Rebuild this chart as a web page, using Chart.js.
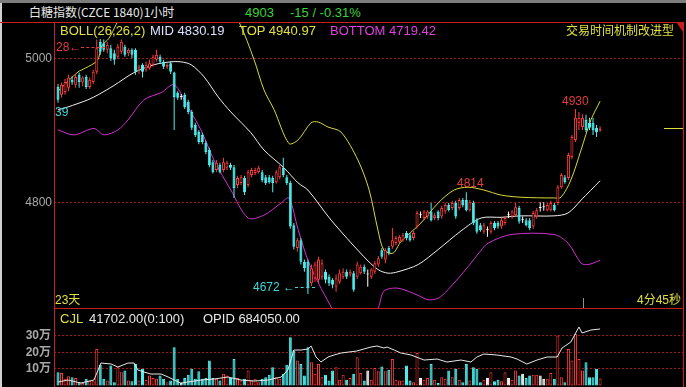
<!DOCTYPE html>
<html>
<head>
<meta charset="utf-8">
<script src="https://cdn.jsdelivr.net/npm/chart.js"></script>
<style>
  body { margin:0; background:#000; width:686px; height:387px; overflow:hidden; position:relative;
         font-family:"Liberation Sans","Noto Sans CJK SC",sans-serif; }
  canvas { position:absolute; left:0; }
  .t { position:absolute; white-space:nowrap; line-height:1; font-size:13px; transform:translateY(-50%); }
  .ln { position:absolute; background:#c81e1e; }
</style>
</head>
<body>
<canvas id="main" width="686" height="286" style="top:22px"></canvas>
<canvas id="vol" width="686" height="78" style="top:309px"></canvas>

<!-- frame -->
<div style="position:absolute;left:0;top:0;width:686px;height:3px;background:#7c7c7c"></div>
<div style="position:absolute;left:0;top:3px;width:2px;height:384px;background:#d0d0d0"></div>
<div class="ln" style="left:0;top:22px;width:684px;height:1px"></div>
<div class="ln" style="left:54px;top:22px;width:1px;height:365px"></div>
<div class="ln" style="left:683px;top:22px;width:1px;height:365px"></div>
<div class="ln" style="left:54px;top:308px;width:630px;height:1px"></div>
<div style="position:absolute;left:677px;top:23px;width:0;height:0;border-top:9px solid #c81e1e;border-left:6px solid transparent"></div>
<div style="position:absolute;left:583px;top:298px;width:1px;height:10px;background:#909090"></div>

<!-- header -->
<div class="t" style="left:29px;top:12px;color:#e8e8e8;font-size:12px;font-family:'Noto Sans CJK SC'">白糖指数(CZCE 1840)1小时</div>
<div class="t" style="left:245px;top:12px;color:#3cd23c">4903</div>
<div class="t" style="left:290px;top:12px;color:#3cd23c">-15 / -0.31%</div>
<div class="t" style="left:60px;top:30px;color:#e0e040">BOLL(26,26,2)</div>
<div class="t" style="left:150px;top:30px;color:#d8e0ff">MID 4830.19</div>
<div class="t" style="left:239px;top:30px;color:#e0e040">TOP 4940.97</div>
<div class="t" style="left:330px;top:30px;color:#e040e0">BOTTOM 4719.42</div>
<div class="t" style="left:566px;top:30px;color:#e0e040;font-size:12px;font-family:'Noto Sans CJK SC'">交易时间机制改进型</div>

<!-- price marks -->
<div class="t" style="left:56px;top:47px;color:#e03c3c;font-size:12px">28←<span style="display:inline-block;width:24px;border-top:1px dashed #e03c3c;vertical-align:middle"></span></div>
<div class="t" style="left:55px;top:112px;color:#40d8d8;font-size:12px">39</div>
<div class="t" style="left:562px;top:101px;color:#e03c3c;font-size:12px">4930</div>
<div class="t" style="left:457px;top:183px;color:#e03c3c;font-size:12px">4814</div>
<div class="t" style="left:253px;top:287px;color:#40d8d8;font-size:12px">4672 ←<span style="display:inline-block;width:20px;border-top:1px dashed #40d8d8;vertical-align:middle"></span></div>
<div class="t" style="left:55px;top:300px;color:#e0e040;font-size:12px">23天</div>
<div class="t" style="left:637px;top:300px;color:#e0e040;font-size:12px">4分45秒</div>

<!-- volume header -->
<div class="t" style="left:60px;top:318px;color:#e0e040">CJL</div>
<div class="t" style="left:89px;top:318px;color:#e8e8e8">41702.00(0:100)</div>
<div class="t" style="left:203px;top:318px;color:#e8e8e8">OPID 684050.00</div>

<script>
// hourly candles, left to right
var open = [4961,4950,4954,4960,4971,4964,4978,4967,4975,4961,
            4968,4982,5024,5022,5013,5015,5008,5003,5010,5017,
            5008,5013,5013,4985,4992,4985,4987,4992,4999,5003,
            4996,4989,4994,4981,4953,4947,4950,4940,4926,4908,
            4898,4894,4883,4873,4856,4845,4852,4845,4848,4852,
            4849,4824,4827,4834,4824,4838,4841,4842,4842,4835,
            4835,4834,4828,4835,4848,4835,4827,4768,4736,4747,
            4717,4717,4687,4694,4692,4696,4703,4696,4692,4682,
            4689,4696,4703,4699,4701,4696,4701,4710,4699,4696,
            4703,4713,4733,4720,4736,4738,4743,4745,4747,4757,
            4754,4750,4766,4782,4778,4780,4787,4778,4787,4780,
            4787,4796,4792,4799,4792,4803,4803,4789,4799,4775,
            4768,4759,4761,4759,4771,4771,4766,4771,4782,4780,
            4782,4792,4775,4775,4775,4766,4780,4792,4793,4789,
            4789,4796,4799,4821,4835,4834,4863,4887,4911,4905,
            4915,4911,4911,4904,4900];
var high = [4965,4967,4972,4978,4976,4979,4981,4976,4978,4974,
            4985,5027,5028,5027,5024,5020,5013,5021,5027,5020,
            5015,5015,5015,4992,4994,4996,4999,5006,5013,5006,
            4999,4994,4997,4982,4955,4951,4953,4943,4929,4911,
            4901,4897,4886,4876,4859,4859,4855,4862,4858,4855,
            4852,4837,4838,4837,4845,4848,4848,4851,4845,4838,
            4838,4837,4845,4852,4862,4838,4830,4771,4750,4750,
            4720,4720,4713,4717,4724,4720,4706,4699,4694,4699,
            4706,4708,4706,4706,4704,4717,4713,4713,4706,4708,
            4718,4725,4736,4736,4739,4764,4753,4754,4757,4760,
            4757,4760,4788,4787,4789,4789,4799,4785,4789,4795,
            4799,4799,4802,4802,4806,4806,4814,4803,4802,4778,
            4771,4771,4766,4774,4774,4774,4778,4781,4787,4789,
            4799,4795,4780,4778,4778,4788,4792,4800,4800,4799,
            4802,4799,4824,4841,4838,4869,4894,4930,4926,4923,
            4922,4918,4918,4908,4906];
var low = [4939,4946,4950,4955,4964,4960,4960,4962,4958,4958,
           4965,4979,5006,5010,5008,4997,4992,5000,5007,5003,
           5004,5001,4978,4979,4974,4982,4985,4989,4996,4993,
           4986,4986,4979,4901,4943,4943,4930,4923,4901,4891,
           4881,4881,4867,4849,4840,4842,4840,4842,4845,4845,
           4806,4820,4824,4810,4821,4835,4838,4840,4828,4824,
           4826,4814,4826,4832,4835,4824,4763,4734,4731,4713,
           4703,4672,4683,4689,4687,4692,4687,4683,4680,4675,
           4686,4693,4693,4696,4675,4693,4699,4700,4682,4693,
           4700,4710,4721,4715,4726,4735,4740,4742,4745,4747,
           4745,4747,4763,4778,4775,4777,4773,4775,4775,4777,
           4784,4787,4789,4777,4789,4793,4787,4787,4768,4756,
           4759,4756,4752,4756,4761,4763,4763,4768,4778,4777,
           4780,4770,4771,4766,4761,4763,4777,4787,4788,4787,
           4787,4787,4796,4819,4826,4831,4860,4884,4901,4901,
           4898,4901,4894,4891,4898];
var close = [4943,4964,4968,4974,4967,4975,4968,4974,4961,4971,
             4982,5015,5010,5013,5020,5001,4999,5017,5024,5006,
             5013,5006,4982,4989,4982,4992,4994,5003,5006,4996,
             4989,4992,4982,4947,4946,4947,4933,4926,4904,4894,
             4884,4884,4870,4852,4842,4855,4842,4856,4855,4848,
             4820,4834,4835,4814,4842,4845,4845,4848,4831,4827,
             4828,4827,4842,4849,4838,4827,4766,4738,4747,4717,
             4708,4680,4708,4713,4720,4715,4692,4687,4685,4694,
             4701,4703,4696,4703,4678,4713,4710,4703,4699,4706,
             4715,4722,4724,4733,4729,4747,4750,4752,4754,4750,
             4747,4757,4785,4782,4787,4787,4775,4782,4778,4792,
             4796,4789,4799,4780,4803,4796,4789,4800,4771,4759,
             4761,4768,4761,4771,4764,4766,4775,4778,4782,4787,
             4793,4773,4775,4768,4764,4785,4789,4792,4793,4796,
             4799,4789,4821,4838,4828,4866,4891,4918,4918,4918,
             4901,4904,4901,4898,4903];
// volume in 万 (10k lots)
var volume = [8,7.5,4,5.5,5,4.5,2,1.5,4,3,
              2.5,22,12.5,4,3,12,2,11,8,9,
              3,2.5,13,3,10,3.5,6,4.5,4,6,
              4,2,3,23,4,1.5,4.5,6.5,10,4,
              8.5,4,4.5,15,4.5,4,3,7,6,4.5,
              16,4.5,3,4,9,3,4,2,4,5,
              6.5,11,5,4,7,12.5,29,21,15,13,
              6,23,14,7,13,5,6.5,3,9,11,
              3.5,6.5,3.5,4.5,7,17,7.5,3,9,3.5,
              10.5,8.5,11.5,8.5,9.5,16,3.5,3,3,12,
              3,2,19.5,4.5,3.5,4.5,13,3.5,1.5,5,
              4,9,5,10,3.5,2,13,3,11,10,
              2,3.5,4.5,8,2.5,3.5,2.5,8,4.5,3.5,
              9,6,7,4.5,6,6.5,6.5,6,4,4,
              7.5,4,30,5,2,22,15,31,16,9,
              14,5,5,10,4.17];

// Bollinger(26,26,2): [candle index, price]
var bollTop = [[0,4955],[5.7,4982],[7.7,4987],[11.2,4998],[12.4,5018],[14.5,5029],[16.5,5048],[18,5062],
               [21,5085],[30,5100],[42,5095],[48,5075],[51.4,5052],[55.7,4999],[58.5,4957],[61.4,4929],
               [65.6,4882],[68.2,4887],[71.9,4911],[73.9,4912],[76.7,4905],[80.4,4898],[85.2,4859],[88.4,4817],
               [90.9,4761],[92.6,4733],[95.2,4729],[97.4,4745],[103.1,4771],[108,4799],[112.5,4817],[116.5,4821],
               [121,4817],[125.9,4810],[131.5,4807],[140.9,4806],[142.9,4807],[145.7,4831],[148.6,4873],[151.4,4915],[154,4941]];
var bollMid = [[0,4929],[2.8,4933],[8.5,4943],[11.4,4950],[15.9,4963],[21.6,4981],[27.3,4992],[32.1,4996],
               [34.9,4996],[37.8,4992],[41.5,4975],[45.5,4947],[49.1,4926],[54.8,4897],[58.5,4873],[64.2,4848],
               [68.2,4827],[71,4817],[77.6,4775],[86.9,4724],[90.9,4706],[93.8,4701],[96.6,4703],[102.3,4713],
               [108,4734],[114.5,4760],[120.2,4778],[125.9,4779],[131.5,4781],[140.9,4781],[144.9,4785],[148.6,4803],[154,4830]];
var bollBottom = [[0,4901],[4.5,4894],[10.2,4903],[13.1,4894],[17,4901],[19.9,4915],[24.4,4943],[29.3,4953],
                  [33,4964],[36.9,4933],[40.6,4901],[44.3,4859],[49.1,4817],[54,4778],[58.5,4782],[63.4,4799],
                  [65.6,4806],[68.2,4762],[71,4719],[73.9,4688],[77.6,4654],[80.4,4631],[85.5,4615],[90.9,4652],
                  [92.6,4676],[96.6,4680],[102.3,4670],[105.1,4664],[108,4666],[110.8,4678],[116.5,4710],[120.2,4733],
                  [122.2,4743],[128.7,4755],[140.9,4755],[144.9,4743],[148.6,4715],[150.6,4713],[154,4719]];
// open interest line in the volume pane
var opid = [[0,578000],[2.8,582000],[6.5,576000],[10.2,582000],[12.2,616000],[15.1,614000],[17,608000],[19.9,616000],
            [21.6,616000],[22.7,602000],[24.4,598000],[26.4,594000],[29.3,594000],[31.3,588000],[33,582000],[34.9,576000],
            [36.9,578000],[40.6,582000],[44.3,584000],[48.3,588000],[52,582000],[55.7,580000],[59.7,582000],[63.4,588000],
            [65.3,602000],[67,642000],[69,642000],[71,644000],[71.9,650000],[73.3,628000],[74.7,618000],[76.7,628000],
            [78.4,632000],[80.4,636000],[84.9,640000],[86.9,644000],[88.9,648000],[90.6,650000],[92.6,646000],[93.5,648000],
            [95.5,642000],[97.4,636000],[100.3,632000],[104,622000],[107.7,624000],[110.5,618000],[114.5,622000],[117.3,618000],
            [119,628000],[121,634000],[124.7,632000],[128.7,628000],[130.4,624000],[133.2,614000],[136.1,622000],[138.9,628000],
            [141.8,628000],[143.2,646000],[145.7,658000],[148,688000],[148.9,676000],[151.4,682000],[154,684050]];

var priceTicks = [4800, 5000];
var volTicks = [10, 20, 30];

var UP = '#ff3c3c', DOWN = '#50f0f0', FLAT = '#ffffff';
var FONT = '"Liberation Sans", "Noto Sans CJK SC", sans-serif';
Chart.defaults.font.family = FONT;

var idx = close.map(function (_, i) { return i; });
function colorOf(i) {
  if (close[i] > open[i]) return UP;
  if (close[i] < open[i]) return DOWN;
  return FLAT;
}
function fillOf(i) { return close[i] > open[i] ? '#000' : colorOf(i); }
function pts(a) { return a.map(function (p) { return { x: p[0], y: p[1] }; }); }

// y axis is a fixed 54px strip, and its labels must not eat into the plot height
function fitAxis(s) {
  s.width = 54;
  s.paddingTop = 0;
  s.paddingBottom = 0;
}

// same x mapping for both panes
var xScale = { type: 'linear', min: -1.14, max: 177.56, display: false, offset: false };

// short yellow mark at the last price on the right edge
var lastPrice = {
  id: 'lastPrice',
  afterDatasetsDraw: function (chart) {
    var y = Math.round(chart.scales.y.getPixelForValue(close[close.length - 1])) + 0.5;
    var ctx = chart.ctx, r = chart.chartArea.right;
    ctx.save();
    ctx.strokeStyle = '#e0e040';
    ctx.lineWidth = 1;
    ctx.beginPath();
    ctx.moveTo(r - 19, y);
    ctx.lineTo(r, y);
    ctx.stroke();
    ctx.restore();
  }
};

new Chart(document.getElementById('main'), {
  type: 'bar',
  data: {
    datasets: [
      { type: 'line', data: pts(bollTop), borderColor: '#d8d838', borderWidth: 1, pointRadius: 0, tension: 0.3, order: 3 },
      { type: 'line', data: pts(bollMid), borderColor: '#f0f0f0', borderWidth: 1, pointRadius: 0, tension: 0.3, order: 3 },
      { type: 'line', data: pts(bollBottom), borderColor: '#d030d0', borderWidth: 1, pointRadius: 0, tension: 0.3, order: 3 },
      { // wicks
        data: idx.map(function (i) { return { x: i, y: [low[i], high[i]] }; }),
        backgroundColor: function (c) { return colorOf(c.dataIndex); },
        borderWidth: 0, barThickness: 1, grouped: false, inflateAmount: 0, order: 2
      },
      { // bodies
        data: idx.map(function (i) { return { x: i, y: [open[i], close[i]] }; }),
        backgroundColor: function (c) { return fillOf(c.dataIndex); },
        borderColor: function (c) { return colorOf(c.dataIndex); },
        borderWidth: 1, borderSkipped: false, barThickness: 3, minBarLength: 1,
        grouped: false, inflateAmount: 0, order: 1
      }
    ]
  },
  options: {
    responsive: false, animation: false,
    layout: { padding: { left: 0, right: 3, top: 0, bottom: 0 } },
    plugins: { legend: { display: false }, tooltip: { enabled: false } },
    scales: {
      x: xScale,
      y: {
        min: 4652.4, max: 5051.6, position: 'left',
        afterFit: fitAxis,
        afterBuildTicks: function (s) { s.ticks = priceTicks.map(function (v) { return { value: v }; }); },
        ticks: { color: '#a8a8a8', font: { size: 12 }, padding: 2, callback: function (v) { return String(v); } },
        grid: { color: '#a01818', drawTicks: false, lineWidth: 1 },
        border: { display: false, dash: [2, 2] }
      }
    }
  },
  plugins: [lastPrice]
});

new Chart(document.getElementById('vol'), {
  type: 'bar',
  data: {
    datasets: [
      { type: 'line', data: pts(opid), yAxisID: 'y2', borderColor: '#e8e8e8', borderWidth: 1, pointRadius: 0, tension: 0, order: 0 },
      {
        data: idx.map(function (i) { return { x: i, y: volume[i] }; }),
        backgroundColor: function (c) { return fillOf(c.dataIndex); },
        borderColor: function (c) { return colorOf(c.dataIndex); },
        borderWidth: 1, borderSkipped: false, barThickness: 3, grouped: false, inflateAmount: 0, order: 1
      }
    ]
  },
  options: {
    responsive: false, animation: false,
    layout: { padding: { left: 0, right: 3, top: 0, bottom: 0 } },
    plugins: { legend: { display: false }, tooltip: { enabled: false } },
    scales: {
      x: xScale,
      y: {
        min: -0.9, max: 46, position: 'left',
        afterFit: fitAxis,
        afterBuildTicks: function (s) { s.ticks = volTicks.map(function (v) { return { value: v }; }); },
        ticks: { color: '#a8a8a8', font: { size: 12, weight: 'bold' }, padding: 3, callback: function (v) { return v + '万'; } },
        grid: { color: '#a01818', drawTicks: false, lineWidth: 1 },
        border: { display: false, dash: [2, 2] }
      },
      y2: { display: false, min: 568050, max: 724050 }
    }
  }
});
</script>
</body>
</html>
